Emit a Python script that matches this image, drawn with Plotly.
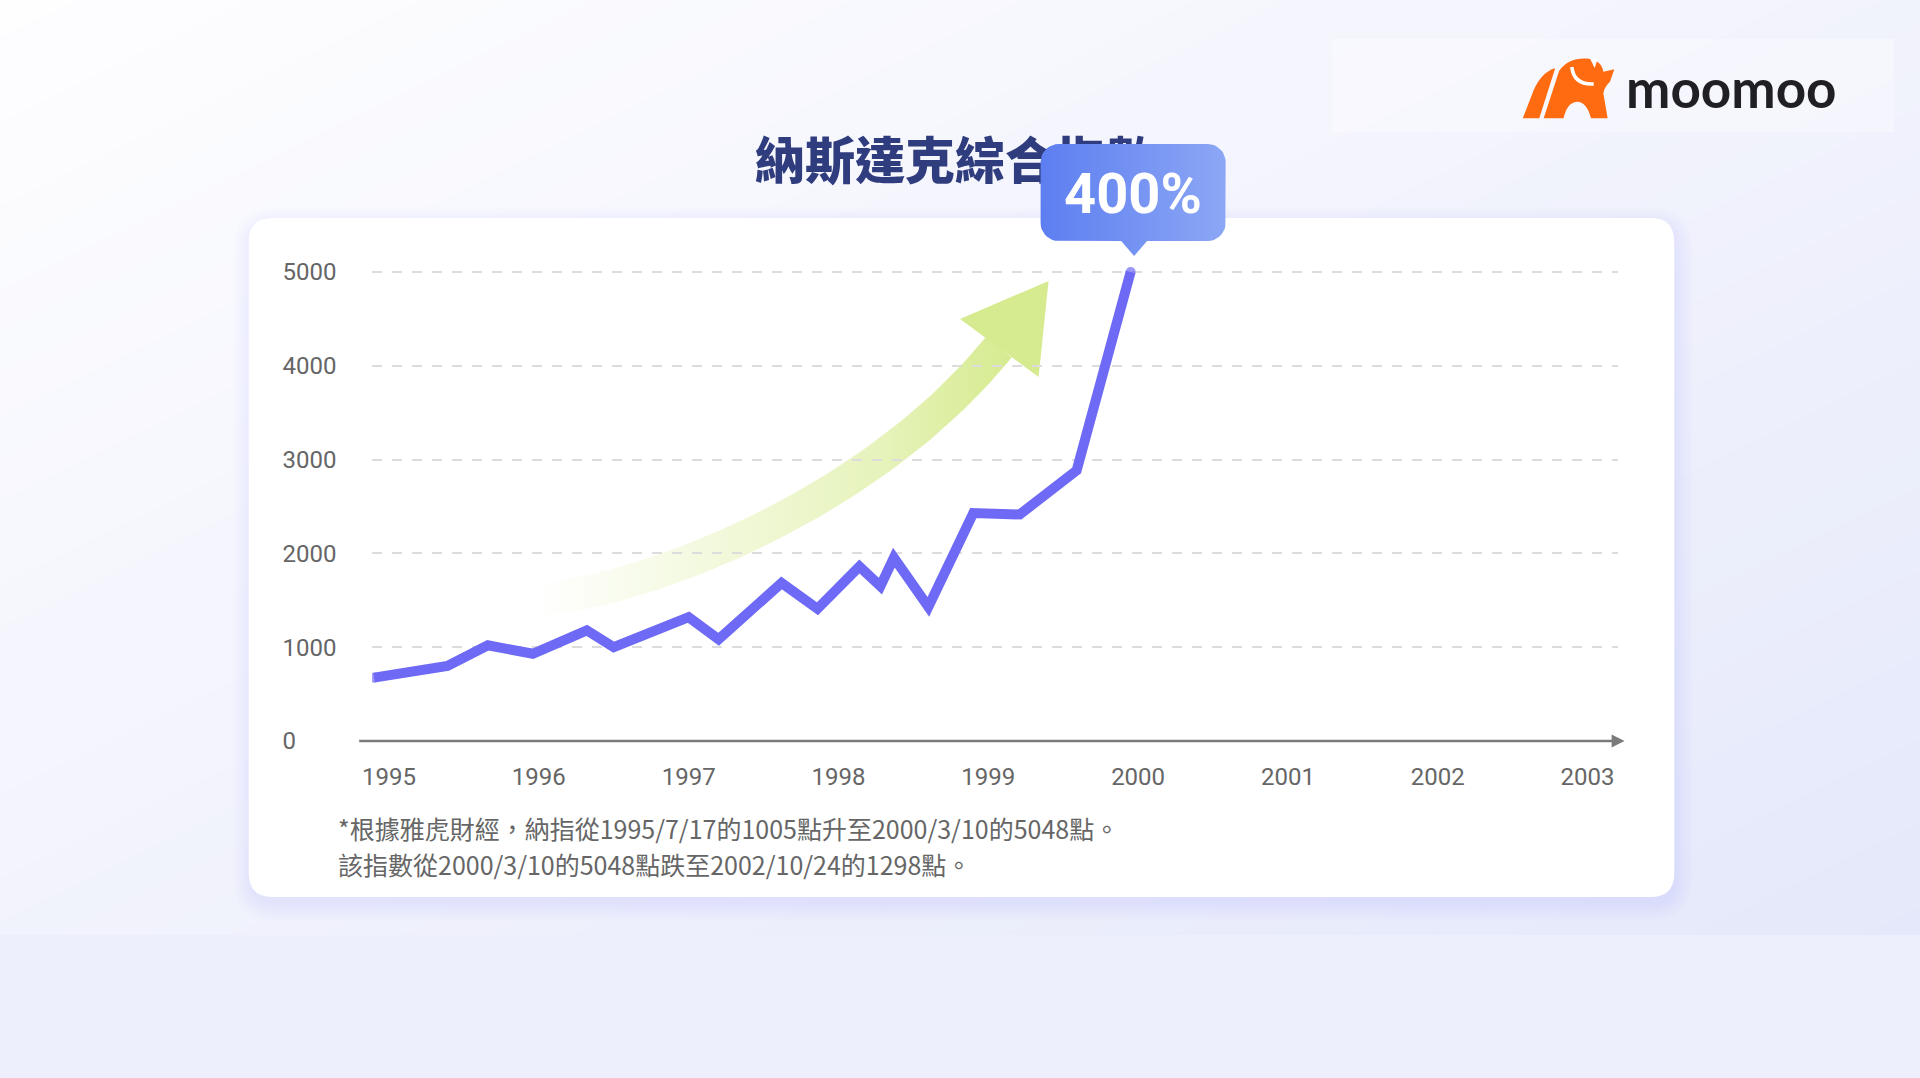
import numpy as np
import plotly.graph_objects as go

W, H = 1920, 1078

# ---------------- data ----------------
years_dec = [1994.90, 1995.39, 1995.66, 1995.96, 1996.32, 1996.50, 1997.00, 1997.20,
             1997.62, 1997.86, 1998.14, 1998.28, 1998.37, 1998.60, 1998.90, 1999.21,
             1999.59, 1999.95]
index_values = [675, 800, 1020, 930, 1180, 1000, 1320, 1085,
                1685, 1410, 1860, 1650, 1955, 1430, 2430, 2415,
                2885, 5000]
y_ticks = [0, 1000, 2000, 3000, 4000, 5000]
y_tick_labels = ["0", "1000", "2000", "3000", "4000", "5000"]
x_ticks = [1995, 1996, 1997, 1998, 1999, 2000, 2001, 2002, 2003]
x_tick_labels = ["1995", "1996", "1997", "1998", "1999", "2000", "2001", "2002", "2003"]
title_text = "納斯達克綜合指數"
callout_text = "400%"
footnote_lines = ["*根據雅虎財經，納指從1995/7/17的1005點升至2000/3/10的5048點。",
                  "該指數從2000/3/10的5048點跌至2002/10/24的1298點。"]
brand_text = "moomoo"

# ---------------- helpers (pixel -> paper) ----------------
def px(x):
    return x / W

def py(y):
    return 1 - y / H

def P(x, y):
    return f"{px(x):.5f},{py(y):.5f}"

def poly_path(pts):
    return "M" + " L".join(P(x, y) for x, y in pts) + " Z"

def rr_path(x0, y0, x1, y1, r):
    return (f"M{P(x0 + r, y0)} L{P(x1 - r, y0)} Q{P(x1, y0)} {P(x1, y0 + r)} "
            f"L{P(x1, y1 - r)} Q{P(x1, y1)} {P(x1 - r, y1)} L{P(x0 + r, y1)} "
            f"Q{P(x0, y1)} {P(x0, y1 - r)} L{P(x0, y0 + r)} Q{P(x0, y0)} {P(x0 + r, y0)} Z")

def lerp_col(c0, c1, t):
    t = min(max(t, 0.0), 1.0)
    return "rgb(%d,%d,%d)" % tuple(round(a + (b - a) * t) for a, b in zip(c0, c1))

shapes = []

# background diagonal gradient
c_tl, c_br = (254, 254, 255), (229, 232, 250)
N = 60
t_lo, t_hi = -0.05, 1.3
for i in range(N):
    a = t_lo + (t_hi - t_lo) * i / N
    b = t_lo + (t_hi - t_lo) * (i + 1) / N + 0.002
    ya, yb = -60, H + 60
    pts = [(1920 * (2 * a - ya / 935), ya), (1920 * (2 * b - ya / 935), ya),
           (1920 * (2 * b - yb / 935), yb), (1920 * (2 * a - yb / 935), yb)]
    shapes.append(dict(type="path", path=poly_path(pts), xref="paper", yref="paper",
                       fillcolor=lerp_col(c_tl, c_br, (a + b) / 2), line=dict(width=0),
                       layer="below"))
# bottom strip
shapes.append(dict(type="rect", xref="paper", yref="paper", x0=-0.01, x1=1.01, y0=-0.01, y1=py(935),
                   fillcolor="#edeffc", line=dict(width=0), layer="below"))
# logo panel
shapes.append(dict(type="rect", xref="paper", yref="paper", x0=px(1329), x1=px(1894),
                   y0=py(132), y1=py(39), fillcolor="rgba(255,255,255,0.35)",
                   line=dict(width=0), layer="below"))

# card shadow + card
cx0, cy0, cx1, cy1 = 240, 218, 1673, 897
for k in range(7, 0, -1):
    e = k * 2.6
    shapes.append(dict(type="path", path=rr_path(cx0 - e + 3, cy0 - e + 8, cx1 + e, cy1 + e + 5, 24 + e),
                       xref="paper", yref="paper", fillcolor="rgba(110,110,235,0.017)",
                       line=dict(width=0), layer="below"))
shapes.append(dict(type="path", path=rr_path(cx0, cy0, cx1, cy1, 24), xref="paper", yref="paper",
                   fillcolor="#ffffff", line=dict(width=0), layer="below"))

# green arrow head
shapes.append(dict(type="path", path=poly_path([(1044, 281), (955, 319), (1034, 377)]),
                   xref="paper", yref="paper", fillcolor="#d6eb8f", line=dict(width=0), layer="below"))

# x axis line with arrow
shapes.append(dict(type="line", xref="paper", yref="paper", x0=px(351), x1=px(1613), y0=py(741), y1=py(741),
                   line=dict(color="#7b7b7b", width=2.5), layer="above"))
shapes.append(dict(type="path", path=poly_path([(1610, 734.5), (1623, 741), (1610, 747.5)]),
                   xref="paper", yref="paper", fillcolor="#7b7b7b", line=dict(width=0), layer="above"))

# moomoo bull icon
orange = "#ff6b10"
body_path = (f"M{P(1541.7, 118.3)} L{P(1557.3, 70.7)} Q{P(1566.7, 57.5)} {P(1585, 58.5)} "
             f"Q{P(1600, 60.0)} {P(1601.7, 71.7)} L{P(1612.7, 69.3)} L{P(1608.3, 81.7)} "
             f"Q{P(1602.5, 87.0)} {P(1601.7, 93.3)} L{P(1606, 118.3)} L{P(1589.3, 118.3)} "
             f"Q{P(1585, 101.7)} {P(1575, 101.7)} Q{P(1565, 102.7)} {P(1561.7, 118.3)} Z")
shapes.append(dict(type="path", path=body_path, xref="paper", yref="paper", fillcolor=orange,
                   line=dict(width=0), layer="below"))
wedge_path = (f"M{P(1520.7, 118.3)} L{P(1531.7, 90)} Q{P(1540, 71.7)} {P(1553.3, 68.3)} "
              f"L{P(1537.3, 118.3)} Z")
shapes.append(dict(type="path", path=wedge_path, xref="paper", yref="paper", fillcolor=orange,
                   line=dict(width=0), layer="below"))
horn_path = f"M{P(1570, 67)} Q{P(1572, 85)} {P(1592, 84)}"
shapes.append(dict(type="path", path=horn_path, xref="paper", yref="paper",
                   line=dict(color="white", width=3.5), layer="below"))
shapes.append(dict(type="path", path=poly_path([(1588, 58), (1596, 59), (1593, 68)]), xref="paper", yref="paper",
                   fillcolor="white", line=dict(width=0), layer="below"))

# ---------------- traces ----------------
fig = go.Figure()

# arrow body (decorative, pixel subplot)
P0, P1, P2, P3 = map(np.array, [(533, 600), (650, 588), (870, 500), (994, 347)])
ts = np.linspace(0, 1, 70)
B = (((1 - ts) ** 3)[:, None] * P0 + (3 * (1 - ts) ** 2 * ts)[:, None] * P1
     + (3 * (1 - ts) * ts ** 2)[:, None] * P2 + (ts ** 3)[:, None] * P3)
D = ((3 * (1 - ts) ** 2)[:, None] * (P1 - P0) + (6 * (1 - ts) * ts)[:, None] * (P2 - P1)
     + (3 * ts ** 2)[:, None] * (P3 - P2))
Nrm = np.stack([D[:, 1], -D[:, 0]], axis=1)
Nrm = Nrm / np.linalg.norm(Nrm, axis=1)[:, None]
hw = 16.5
up = B + hw * Nrm
lo = B - hw * Nrm
poly = np.vstack([up, lo[::-1], up[:1]])
fig.add_trace(go.Scatter(x=poly[:, 0], y=poly[:, 1], mode="lines", fill="toself",
                         line=dict(width=0, color="rgba(0,0,0,0)"),
                         fillgradient=dict(type="horizontal",
                                           colorscale=[[0, "rgba(214,235,143,0)"],
                                                       [0.3, "rgba(214,235,143,0.25)"],
                                                       [0.72, "rgba(214,235,143,0.6)"],
                                                       [1, "rgba(214,235,143,1)"]]),
                         hoverinfo="skip", showlegend=False, xaxis="x", yaxis="y"))

# title text
fig.add_trace(go.Scatter(x=[950], y=[166], mode="text", text=[title_text], textposition="middle center",
                         textfont=dict(family="Noto Sans CJK TC", size=50, color="#2f3c7e", weight=900),
                         hoverinfo="skip", showlegend=False, xaxis="x", yaxis="y"))

# callout bubble
def bubble(x0, y0, x1, y1, r, notch):
    xs, ys = [], []
    def arc(cx, cy, a0, a1):
        for a in np.linspace(np.radians(a0), np.radians(a1), 10):
            xs.append(cx + r * np.cos(a)); ys.append(cy + r * np.sin(a))
    arc(x1 - r, y0 + r, -90, 0)
    arc(x1 - r, y1 - r, 0, 90)
    for (nx, ny) in notch:
        xs.append(nx); ys.append(ny)
    arc(x0 + r, y1 - r, 90, 180)
    arc(x0 + r, y0 + r, 180, 270)
    xs.append(xs[0]); ys.append(ys[0])
    return xs, ys

bx, by = bubble(1036, 144, 1222, 241, 18, [(1143, 241), (1130, 256), (1117, 241)])
fig.add_trace(go.Scatter(x=bx, y=by, mode="lines", fill="toself",
                         line=dict(width=0, color="rgba(0,0,0,0)"),
                         fillgradient=dict(type="horizontal",
                                           colorscale=[[0, "#5d7ef0"], [1, "#8ca7f5"]]),
                         hoverinfo="skip", showlegend=False, xaxis="x", yaxis="y"))

# main data line
n = len(years_dec)
end_sizes = [10] + [0] * (n - 2) + [10]
fig.add_trace(go.Scatter(x=years_dec, y=index_values, mode="lines+markers",
                         line=dict(color="#6e6af5", width=10),
                         marker=dict(size=end_sizes, color="#6e6af5", line=dict(width=0)),
                         hoverinfo="skip", showlegend=False, xaxis="x2", yaxis="y2"))

# ---------------- axes mapping ----------------
px_per_year = 150.6
x_left = 1995 + (364 - 381) / px_per_year
x_right = 1995 + (1616 - 381) / px_per_year
y0_px, px_per_unit = 741, 0.0938
y_lo, y_hi = -200, 5250
bot_px = y0_px - y_lo * px_per_unit
top_px = y0_px - y_hi * px_per_unit

annotations = [
    dict(x=px(1129), y=py(194), xref="paper", yref="paper", text=callout_text, showarrow=False,
         font=dict(family="Roboto", size=56, color="white", weight="bold"),
         xanchor="center", yanchor="middle"),
    dict(x=px(1622), y=py(87), xref="paper", yref="paper", text=brand_text, showarrow=False,
         font=dict(family="Lato", size=53, color="#1f1f24", weight="bold"),
         xanchor="left", yanchor="middle"),
]
for i, line_txt in enumerate(footnote_lines):
    annotations.append(dict(x=px(328), y=py(828 + 36 * i), xref="paper", yref="paper", text=line_txt,
                            showarrow=False, xanchor="left", yanchor="middle",
                            font=dict(family="Noto Sans CJK TC", size=25, color="#666666")))

fig.update_layout(
    width=W, height=H, margin=dict(l=0, r=0, t=0, b=0),
    paper_bgcolor="#f4f5fc", plot_bgcolor="rgba(0,0,0,0)",
    shapes=shapes, annotations=annotations, showlegend=False,
    xaxis=dict(domain=[0, 1], range=[0, W], visible=False, fixedrange=True),
    yaxis=dict(domain=[0, 1], range=[H, 0], visible=False, fixedrange=True),
    xaxis2=dict(domain=[px(364), px(1616)], anchor="y2", range=[x_left, x_right],
                tickvals=x_ticks, ticktext=x_tick_labels, showgrid=False, zeroline=False,
                showline=False, ticks="", tickfont=dict(family="Roboto", size=24, color="#666666"),
                fixedrange=True),
    yaxis2=dict(domain=[py(bot_px), py(top_px)], anchor="free", position=px(270),
                range=[y_lo, y_hi], tickvals=y_ticks, ticktext=y_tick_labels,
                showgrid=True, gridcolor="#dcdcdc", gridwidth=2, griddash="10px,10px",
                zeroline=False, showline=False, ticks="", ticklabelposition="inside",
                tickfont=dict(family="Roboto", size=24, color="#666666"), fixedrange=True),
)

fig.write_html("out.html", config={"displayModeBar": False},
               post_script="document.body.style.margin='0';document.body.style.overflow='hidden';")
